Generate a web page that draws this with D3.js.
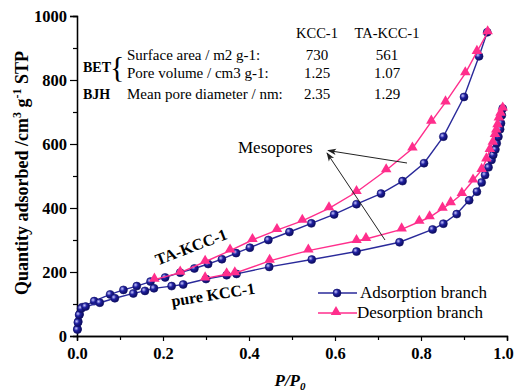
<!DOCTYPE html>
<html>
<head>
<meta charset="utf-8">
<script src="https://cdn.jsdelivr.net/npm/d3@7"></script>
<style>
  body { margin: 0; background: #fff; }
  text { font-family: "Liberation Serif", serif; }
</style>
</head>
<body>
<div id="chart"></div>
<script>
// isotherm data: [P/P0, quantity adsorbed]
var taAds = [[0.001,22],[0.003,45],[0.006,68],[0.012,90],[0.04,109],[0.077,130],[0.108,144],[0.139,156],[0.171,170],[0.205,183],[0.24,198],[0.273,211],[0.305,225],[0.337,240],[0.37,259],[0.402,276],[0.445,300],[0.494,325],[0.545,352],[0.598,380],[0.65,412],[0.707,445],[0.757,484],[0.807,540],[0.852,623],[0.9,747],[0.935,874],[0.954,949]];
var taDes = [[0.955,949],[0.93,888],[0.903,821],[0.857,730],[0.824,670],[0.78,586],[0.719,518],[0.65,450],[0.586,399],[0.524,360],[0.465,331],[0.408,300],[0.356,267],[0.298,232],[0.24,198],[0.18,176]];
var kccAds = [[0.001,20],[0.002,42],[0.005,66],[0.01,86],[0.02,92],[0.053,104],[0.088,118],[0.131,133],[0.158,141],[0.179,149],[0.22,156],[0.247,161],[0.3,178],[0.348,190],[0.371,194],[0.447,216],[0.546,239],[0.65,264],[0.75,293],[0.827,333],[0.852,351],[0.883,381],[0.912,424],[0.93,451],[0.941,480],[0.949,503],[0.957,527],[0.964,550],[0.968,566],[0.973,583],[0.976,602],[0.98,623],[0.984,646],[0.986,665],[0.988,690],[0.99,711]];
var kccDes = [[0.99,711],[0.985,695],[0.981,680],[0.978,659],[0.975,642],[0.972,628],[0.967,604],[0.96,581],[0.952,552],[0.941,519],[0.921,486],[0.895,444],[0.869,415],[0.85,398],[0.82,371],[0.796,357],[0.755,333],[0.672,303],[0.65,297],[0.538,267],[0.448,235],[0.367,196],[0.348,193],[0.298,180]];

var xTicks = [0, 0.2, 0.4, 0.6, 0.8, 1.0];
var yTicks = [0, 200, 400, 600, 800, 1000];
var tableHead = ["KCC-1", "TA-KCC-1"];
var tableRows = ["Surface area / m2 g-1:", "Pore volume / cm3 g-1:", "Mean pore diameter / nm:"];
var kccVals = ["730", "1.25", "2.35"];
var taVals = ["561", "1.07", "1.29"];
var legendNames = ["Adsorption branch", "Desorption branch"];

var W = 516, H = 391;
var blue = "#2a2a9a", pink = "#ff2e8c";

var svg = d3.select("#chart").append("svg")
    .attr("width", W)
    .attr("height", H);

var defs = svg.append("defs");
var grad = defs.append("radialGradient").attr("id", "ball")
    .attr("cx", "35%").attr("cy", "35%").attr("r", "65%");
grad.append("stop").attr("offset", "0%").attr("stop-color", "#c8c8ff");
grad.append("stop").attr("offset", "45%").attr("stop-color", "#2020a0");
grad.append("stop").attr("offset", "100%").attr("stop-color", "#0c0c60");

var x = d3.scaleLinear().domain([0, 1]).range([77, 507]);
var y = d3.scaleLinear().domain([0, 1000]).range([336, 16]);

// axes
svg.append("g")
    .attr("transform", "translate(77,0)")
    .call(d3.axisLeft(y).tickValues(yTicks).tickSize(7).tickPadding(3).tickFormat(d3.format("d")));
svg.append("g")
    .attr("transform", "translate(77,0)")
    .call(d3.axisLeft(y).tickValues([100, 300, 500, 700, 900]).tickSize(4).tickFormat(""));
var xAxis = svg.append("g")
    .attr("transform", "translate(0,336)")
    .call(d3.axisBottom(x).tickValues(xTicks).tickSize(5).tickPadding(6).tickFormat(d3.format(".1f")));
svg.append("g")
    .attr("transform", "translate(0,336)")
    .call(d3.axisBottom(x).tickValues([0.1, 0.3, 0.5, 0.7, 0.9]).tickSize(4).tickFormat(""));

svg.selectAll(".domain").attr("stroke", "#000").attr("stroke-width", 1.3);
svg.selectAll(".tick line").attr("stroke", "#000").attr("stroke-width", 1.2);
svg.selectAll(".tick text")
    .style("font-family", "Liberation Serif")
    .style("font-weight", "bold")
    .style("font-size", "16.5px")
    .attr("fill", "#000");
// keep the last x label inside the window
xAxis.selectAll(".tick text").filter(function(d) { return d === 1; }).attr("dx", -4);

// axis titles
var yl = svg.append("text")
    .attr("transform", "translate(28,173) rotate(-90)")
    .attr("text-anchor", "middle")
    .style("font-weight", "bold")
    .style("font-size", "18px");
yl.append("tspan").text("Quantity adsorbed /cm");
yl.append("tspan").attr("dy", -7).style("font-size", "12px").text("3");
yl.append("tspan").attr("dy", 7).text(" g");
yl.append("tspan").attr("dy", -7).style("font-size", "12px").text("-1");
yl.append("tspan").attr("dy", 7).text(" STP");

var xl = svg.append("text")
    .attr("x", 290).attr("y", 386)
    .attr("text-anchor", "middle")
    .style("font-weight", "bold")
    .style("font-style", "italic")
    .style("font-size", "17px");
xl.append("tspan").text("P/P");
xl.append("tspan").attr("dy", 4).style("font-size", "11px").text("0");

// series
var line = d3.line().x(function(d) { return x(d[0]); }).y(function(d) { return y(d[1]); });

function drawAds(data) {
  svg.append("path").datum(data)
      .attr("d", line).attr("fill", "none")
      .attr("stroke", blue).attr("stroke-width", 1.4);
  svg.append("g").selectAll("circle").data(data).enter().append("circle")
      .attr("cx", function(d) { return x(d[0]); })
      .attr("cy", function(d) { return y(d[1]); })
      .attr("r", 4)
      .attr("fill", "url(#ball)")
      .attr("stroke", "#10106a").attr("stroke-width", 0.6);
}
var tri = d3.symbol().type(d3.symbolTriangle).size(48);
function drawDes(data) {
  svg.append("path").datum(data)
      .attr("d", line).attr("fill", "none")
      .attr("stroke", pink).attr("stroke-width", 1.4);
  svg.append("g").selectAll("path").data(data).enter().append("path")
      .attr("d", tri)
      .attr("transform", function(d) { return "translate(" + x(d[0]) + "," + (y(d[1]) - 1) + ")"; })
      .attr("fill", pink);
}
drawAds(taAds);
drawDes(taDes);
drawAds(kccAds);
drawDes(kccDes);

// sample labels
svg.append("text")
    .attr("transform", "translate(193,252) rotate(-21)")
    .attr("text-anchor", "middle")
    .style("font-weight", "bold").style("font-size", "16px")
    .text("TA-KCC-1");
svg.append("text")
    .attr("transform", "translate(214,300) rotate(-9)")
    .attr("text-anchor", "middle")
    .style("font-weight", "bold").style("font-size", "16px")
    .text("pure KCC-1");

// Mesopores annotation
svg.append("text")
    .attr("x", 238).attr("y", 153)
    .style("font-size", "17px")
    .text("Mesopores");
defs.append("marker").attr("id", "arr")
    .attr("viewBox", "0 0 10 10").attr("refX", 9).attr("refY", 5)
    .attr("markerWidth", 9).attr("markerHeight", 9).attr("orient", "auto")
    .append("path").attr("d", "M0,1.5 L10,5 L0,8.5 L2.5,5 Z").attr("fill", "#222");
svg.append("line")
    .attr("x1", 407).attr("y1", 163).attr("x2", 328).attr("y2", 150.5)
    .attr("stroke", "#222").attr("stroke-width", 1).attr("marker-end", "url(#arr)");
svg.append("line")
    .attr("x1", 385).attr("y1", 240).attr("x2", 327).attr("y2", 153)
    .attr("stroke", "#222").attr("stroke-width", 1).attr("marker-end", "url(#arr)");

// BET / BJH table
var rowY = [60, 78, 99];
svg.append("text").attr("x", 83).attr("y", 72)
    .style("font-weight", "bold").style("font-size", "14px").text("BET");
svg.append("text").attr("x", 110).attr("y", 77)
    .style("font-size", "30px").text("{");
svg.append("text").attr("x", 83).attr("y", rowY[2])
    .style("font-weight", "bold").style("font-size", "14px").text("BJH");
svg.selectAll(".rowlab").data(tableRows).enter().append("text")
    .attr("x", 127).attr("y", function(d, i) { return rowY[i]; })
    .style("font-size", "15px").text(function(d) { return d; });
svg.selectAll(".head").data(tableHead).enter().append("text")
    .attr("x", function(d, i) { return i ? 387 : 317; }).attr("y", 38)
    .attr("text-anchor", "middle")
    .style("font-size", "14.5px").text(function(d) { return d; });
svg.selectAll(".v1").data(kccVals).enter().append("text")
    .attr("x", 317).attr("y", function(d, i) { return rowY[i]; })
    .attr("text-anchor", "middle")
    .style("font-size", "15px").text(function(d) { return d; });
svg.selectAll(".v2").data(taVals).enter().append("text")
    .attr("x", 387).attr("y", function(d, i) { return rowY[i]; })
    .attr("text-anchor", "middle")
    .style("font-size", "15px").text(function(d) { return d; });

// legend
var lg = svg.append("g");
[0, 1].forEach(function(i) {
  var ly = 293 + i * 20;
  lg.append("line").attr("x1", 318).attr("x2", 357).attr("y1", ly).attr("y2", ly)
      .attr("stroke", i ? pink : blue).attr("stroke-width", 1.4);
  if (i) {
    lg.append("path").attr("d", tri).attr("transform", "translate(336," + (ly - 1) + ")").attr("fill", pink);
  } else {
    lg.append("circle").attr("cx", 337).attr("cy", ly).attr("r", 4)
        .attr("fill", "url(#ball)").attr("stroke", "#10106a").attr("stroke-width", 0.6);
  }
  lg.append("text").attr("x", i ? 357 : 360).attr("y", ly + 5)
      .style("font-size", "17px").text(legendNames[i]);
});
</script>
</body>
</html>
